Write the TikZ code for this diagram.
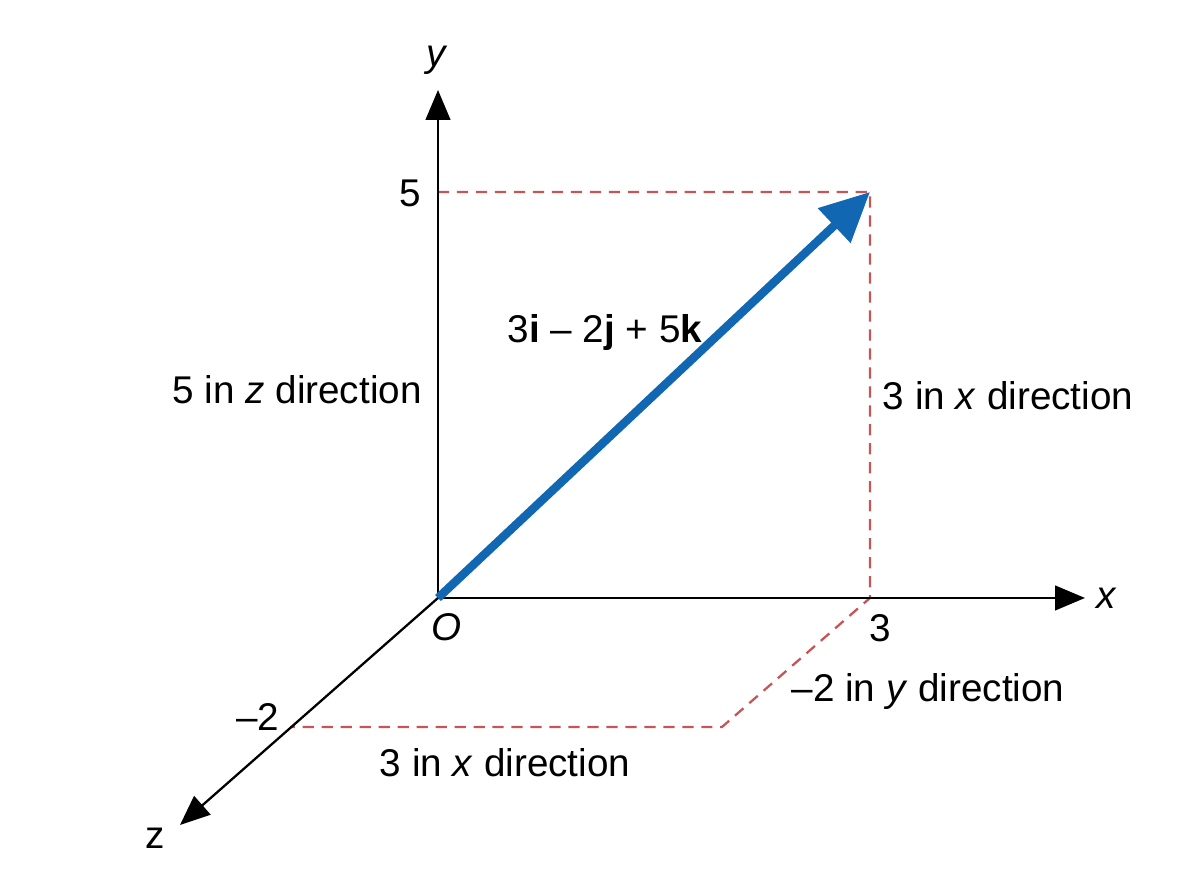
\documentclass[tikz,border=0pt]{standalone}
\usepackage{fontspec}
\setmainfont{Liberation Sans}
\usetikzlibrary{arrows.meta}
\definecolor{guidered}{RGB}{200,85,85}
\definecolor{vecblue}{RGB}{17,103,177}
\begin{document}
\begin{tikzpicture}[
    axis/.style={line width=0.65pt,-{Triangle[length=8.5pt,width=7pt]}},
    guide/.style={line width=0.65pt,draw=guidered,dash pattern=on 3.2pt off 2.2pt},
    vec/.style={line width=2.4pt,draw=vecblue,-{Triangle[length=14pt,width=13pt]}},
    lbl/.style={font=\fontsize{11}{13}\selectfont,inner sep=0pt}
]
            \useasboundingbox (0,0) rectangle (12,8.96);

            \coordinate (O) at (4.38,2.98);
            \coordinate (ytip) at (4.38,8.06);
            \coordinate (xtip) at (10.85,2.98);
            \coordinate (ztip) at (1.80,0.71);
            \coordinate (y5) at (4.38,7.04);
            \coordinate (P) at (8.70,7.04);
            \coordinate (x3) at (8.70,2.98);
            \coordinate (Q) at (7.22,1.69);
            \coordinate (zm2) at (2.90,1.69);

            % guides
            \draw[guide] (y5)--(P)--(x3)--(Q)--(zm2);

            % axes
            \draw[axis] (O)--(ytip);
            \draw[axis] (O)--(xtip);
            \draw[axis] (O)--(ztip);

            % vector
            \draw[vec] (O)--(P);

            \node[lbl] (ylab) at (4.37,8.36) {\textit{y}};
            \node[lbl] (xlab) at (11.07,2.98) {\textit{x}};
            \node[lbl] (zlab) at (1.55,0.58) {z};
            \node[lbl] (olab) at (4.47,2.69) {\textit{O}};
            \node[lbl] (fivelab) at (4.10,7.03) {5};
            \node[lbl] (threelab) at (8.80,2.68) {3};
            \node[lbl] (mtwolab) at (2.58,1.79) {--2};

            \node[lbl] (veclab) at (6.05,5.63) {3\textbf{i} -- 2\textbf{j} + 5\textbf{k}};
            \node[lbl] (zdir) at (2.97,5.06) {5 in \textit{z} direction};
            \node[lbl] (xdir) at (10.08,5.00) {3 in \textit{x} direction};
            \node[lbl] (ydir) at (9.28,2.04) {--2 in \textit{y} direction};
            \node[lbl] (xdirb) at (5.05,1.33) {3 in \textit{x} direction};
\end{tikzpicture}
\end{document}
